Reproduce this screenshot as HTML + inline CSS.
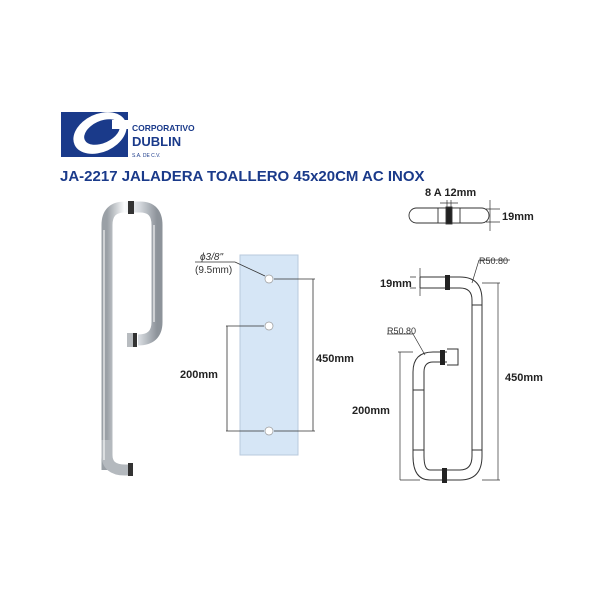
<!DOCTYPE html>
<html><head><style>
body{margin:0;width:600px;height:600px;background:#fff;overflow:hidden;font-family:"Liberation Sans",sans-serif}
</style></head><body>
<svg width="600" height="600" viewBox="0 0 600 600" xmlns="http://www.w3.org/2000/svg">
<defs>
<linearGradient id="chr" x1="0" x2="1"><stop offset="0" stop-color="#9aa0a6"/><stop offset="0.35" stop-color="#fbfcfd"/><stop offset="0.65" stop-color="#d6dadf"/><stop offset="1" stop-color="#8d939a"/></linearGradient>
</defs>
<!-- logo -->
<rect x="61" y="112" width="67" height="45" fill="#1a3a8a"/>
<ellipse cx="100" cy="133" rx="28" ry="19" fill="#fff" transform="rotate(-25 100 133)"/>
<ellipse cx="102" cy="132" rx="19" ry="11" fill="#1a3a8a" transform="rotate(-25 102 132)"/>
<rect x="112" y="120" width="16" height="9" fill="#fff"/>
<text x="132" y="131" font-size="8.5" font-weight="bold" fill="#1a3a8a">CORPORATIVO</text>
<text x="132" y="146" font-size="13" font-weight="bold" fill="#1a3a8a">DUBLIN</text>
<text x="132" y="157" font-size="5" fill="#1a3a8a">S.A. DE C.V.</text>
<text x="60" y="181" font-size="15" font-weight="bold" fill="#1a3a8a">JA-2217   JALADERA TOALLERO 45x20CM AC INOX</text>
<!-- photo handle -->
<path d="M107 470 L107 225 Q107 207 125 207 L140 207 Q157 207 157 225 L157 322 Q157 340 138 340" fill="none" stroke="url(#chr)" stroke-width="11"/>
<path d="M107 440 L107 455 Q107 470 125 470 L133 470" fill="none" stroke="#b4b9be" stroke-width="11"/>
<path d="M104 230 V460 M154 225 V322" stroke="#fff" stroke-width="1.5" opacity="0.7"/>
<rect x="128" y="201" width="6" height="13" fill="#333"/>
<rect x="128" y="463" width="5" height="13" fill="#333"/>
<rect x="132" y="333" width="5" height="14" fill="#333"/>
<rect x="127" y="333" width="6" height="14" fill="#b8bcc0"/>
<!-- glass -->
<rect x="240" y="255" width="58" height="200" fill="#d6e6f6" stroke="#b8cadc"/>
<g fill="#fff" stroke="#999" stroke-width="0.7"><circle cx="269" cy="279" r="4"/><circle cx="269" cy="326" r="4"/><circle cx="269" cy="431" r="4"/></g>
<g stroke="#333" stroke-width="0.8" fill="none">
<path d="M274 279 H315 M274 431 H315 M313 279 V431 M264 326 H226 M264 431 H226 M227 326 V431"/>
<path d="M195 262 H235 L265 276"/>
</g>
<text x="200" y="260" font-size="10" font-style="italic" fill="#333">ϕ3/8"</text>
<text x="195" y="273" font-size="10" fill="#333">(9.5mm)</text>
<text x="180" y="378" font-size="11" font-weight="bold" fill="#222">200mm</text>
<text x="316" y="362" font-size="11" font-weight="bold" fill="#222">450mm</text>
<!-- top view -->
<g stroke="#333" stroke-width="0.9" fill="#fff">
<rect x="409" y="208" width="80" height="15" rx="7.5"/>
<rect x="438" y="208" width="22" height="15"/>
<rect x="446" y="207" width="6" height="17" fill="#222"/>
</g>
<path d="M447 200 V207 M451 200 V207 M440 203 H458 M490 200 V231 M486 209 H500 M486 222 H500" stroke="#333" stroke-width="0.7" fill="none"/>
<text x="425" y="196" font-size="11" font-weight="bold" fill="#222">8 A 12mm</text>
<text x="502" y="220" font-size="11" font-weight="bold" fill="#222">19mm</text>
<!-- side drawing -->
<g fill="none" stroke="#333" stroke-width="1">
<path d="M420 277 H460 Q482 277 482 300 V456 Q482 480 460 480 H430 Q413 480 413 456 V372 Q413 352 433 352 H447"/>
<path d="M420 288 H460 Q472 288 472 300 V456 Q472 470 460 470 H430 Q424 470 424 456 V372 Q424 362 433 362 H447"/>
<path d="M420 277 V288"/>
<path d="M447 349 H458 V365 H447"/>
<path d="M413 390 H424 M413 450 H424 M472 305 H482 M472 450 H482"/>
</g>
<rect x="445" y="275" width="5" height="15" fill="#222"/>
<rect x="440" y="350" width="5" height="15" fill="#222"/>
<rect x="442" y="468" width="5" height="15" fill="#222"/>
<g stroke="#333" stroke-width="0.7" fill="none">
<path d="M420 268 V296 M416 277 H410 M416 288 H410"/>
<path d="M479 260 H510 M479 260 L472 283"/>
<path d="M387 334 H413 L425 355"/>
<path d="M482 283 H500 M498 283 V480 M482 480 H500"/>
<path d="M398 352 H413 M400 352 V480 M400 480 H420"/>
</g>
<text x="479" y="264" font-size="9" fill="#333">R50.80</text>
<text x="387" y="334" font-size="9" fill="#333">R50.80</text>
<text x="380" y="287" font-size="11" font-weight="bold" fill="#222">19mm</text>
<text x="505" y="381" font-size="11" font-weight="bold" fill="#222">450mm</text>
<text x="352" y="414" font-size="11" font-weight="bold" fill="#222">200mm</text>
</svg>
</body></html>
